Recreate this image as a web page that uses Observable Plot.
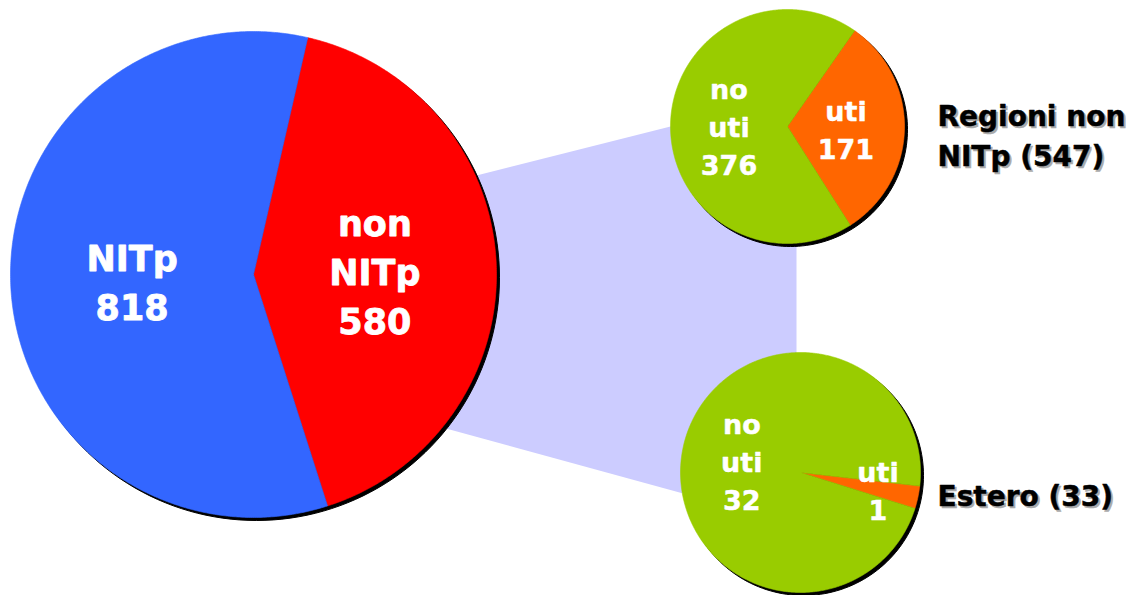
<!DOCTYPE html>
<html><head><meta charset="utf-8">
<script src="https://cdn.jsdelivr.net/npm/d3@7"></script>
<script src="https://cdn.jsdelivr.net/npm/@observablehq/plot@0.6"></script>
<style>body{margin:0;background:#fff} svg{display:block}</style>
</head><body><div id="chart"></div>
<script>
// ---- data ----
const mainCategories = ["non NITp", "NITp"];
const mainLabels = ["non\nNITp\n580", "NITp\n818"];
const mainValues = [580, 818];
const regioniCategories = ["uti", "no uti"];
const regioniLabels = ["uti\n171", "no\nuti\n376"];
const regioniValues = [171, 376];
const esteroCategories = ["uti", "no uti"];
const esteroLabels = ["uti\n1", "no\nuti\n32"];
const esteroValues = [1, 32];
const pieTitles = ["Regioni non\nNITp (547)", "Estero (33)"];

// ---- layout / style ----
const W = 1136, H = 595;
const FONT = "DejaVu Sans, Verdana, sans-serif";
const pies = [
  {id: "main", cats: mainCategories, labels: mainLabels, values: mainValues,
   colors: ["#FF0000", "#3366FF"], cx: 253, cy: 274, r: 243, start: 12.9,
   fontSize: 35, labelStroke: 0.8, labelR: [0.5, 0.5]},
  {id: "reg", cats: regioniCategories, labels: regioniLabels, values: regioniValues,
   colors: ["#FF6600", "#99CC00"], cx: 787, cy: 126, r: 117, start: 35,
   fontSize: 27, labelStroke: 0.45, labelR: [0.5, 0.5], title: pieTitles[0], titleX: 937, titleDy: 7},
  {id: "est", cats: esteroCategories, labels: esteroLabels, values: esteroValues,
   colors: ["#FF6600", "#99CC00"], cx: 800, cy: 472, r: 120, start: 96.5,
   fontSize: 27, labelStroke: 0.45, labelR: [0.66, 0.5], title: pieTitles[1], titleX: 937, titleDy: 21}
];
const rad = d => d * Math.PI / 180;
const pt = (p, a, rr = p.r) => [p.cx + rr * Math.sin(a), p.cy - rr * Math.cos(a)];

// slices
const slicePts = [], shadowPts = [], labelRows = [];
pies.forEach(p => {
  const arcs = d3.pie().sort(null).value(d => d)
    .startAngle(rad(p.start)).endAngle(rad(p.start) + 2 * Math.PI)(p.values);
  arcs.forEach((a, i) => {
    const id = p.id + i;
    const n = Math.max(4, Math.ceil((a.endAngle - a.startAngle) / rad(0.5)));
    slicePts.push({id, x: p.cx, y: p.cy, c: p.colors[i]});
    for (let k = 0; k <= n; k++) {
      const t = a.startAngle + (a.endAngle - a.startAngle) * k / n;
      const [x, y] = pt(p, t);
      slicePts.push({id, x, y, c: p.colors[i]});
    }
    slicePts.push({id, x: p.cx, y: p.cy, c: p.colors[i]});
    const mid = (a.startAngle + a.endAngle) / 2;
    const [lx, ly] = pt(p, mid, p.r * p.labelR[i]);
    labelRows.push({pie: p.id, x: lx, y: ly, text: p.labels[i], cat: p.cats[i]});
  });
  for (let k = 0; k <= 360; k += 2) {
    const [x, y] = pt(p, rad(k));
    shadowPts.push({id: p.id, x, y});
  }
});

// connector polygon (pie-of-pie band)
const [mainP, regP, estP] = pies;
const bandX = 796;
const band = [
  pt(mainP, rad(66)), pt(regP, rad(270)), [bandX, regP.cy],
  [bandX, estP.cy], pt(estP, rad(260)), pt(mainP, rad(129)), pt(mainP, rad(66))
].map(([x, y]) => ({x, y}));

const titleRows = pies.filter(p => p.title).map(p => ({x: p.titleX, y: p.cy + p.titleDy, text: p.title}));

const textMarks = pies.map(p => Plot.text(labelRows.filter(d => d.pie === p.id), {
  x: "x", y: "y", text: "text", fill: "white", stroke: "white", strokeWidth: p.labelStroke,
  fontSize: p.fontSize, fontWeight: "bold",
  fontFamily: FONT, lineHeight: 1.4, lineAnchor: "middle", textAnchor: "middle"
}));

const titleOpts = {x: "x", y: "y", text: "text", fontSize: 28, fontWeight: "bold", fontFamily: FONT,
  lineHeight: 1.43, lineAnchor: "middle", textAnchor: "start", strokeWidth: 0.5};

const chart = Plot.plot({
  width: W, height: H, margin: 0,
  x: {domain: [0, W], axis: null},
  y: {domain: [H, 0], axis: null},
  color: {type: "identity"},
  marks: [
    Plot.line(band, {x: "x", y: "y", fill: "#CCCCFF", stroke: "none"}),
    Plot.line(shadowPts, {x: "x", y: "y", z: "id", fill: "black", stroke: "black", strokeWidth: 1, dx: 3, dy: 3}),
    Plot.line(slicePts, {x: "x", y: "y", z: "id", fill: "c", stroke: "c", strokeWidth: 0.6}),
    ...textMarks,
    Plot.text(titleRows, {...titleOpts, fill: "#AAAAAA", stroke: "#AAAAAA", dx: 2, dy: 2}),
    Plot.text(titleRows, {...titleOpts, fill: "black", stroke: "black"})
  ]
});
document.getElementById("chart").appendChild(chart);
</script>
</body></html>
